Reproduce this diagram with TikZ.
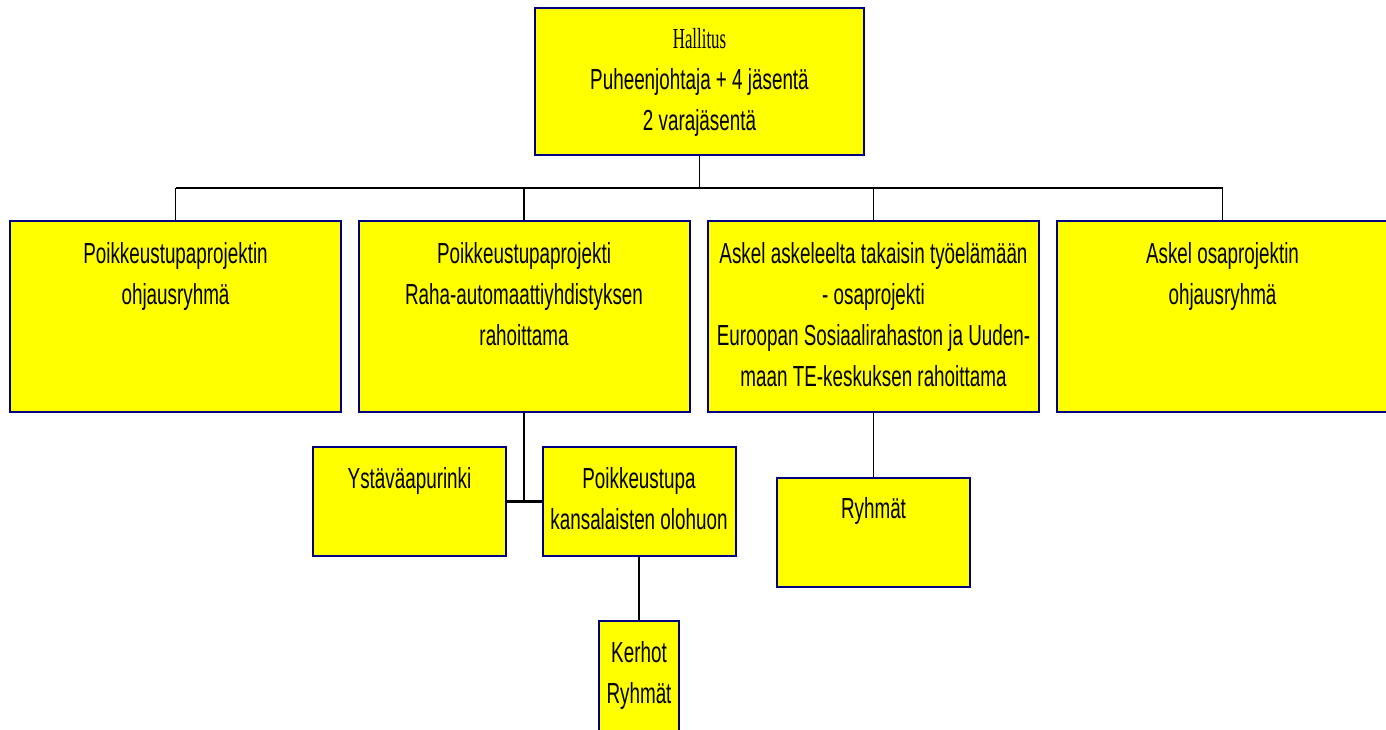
\documentclass[tikz,border=0pt]{standalone}
\usepackage{fontspec}
\setmainfont{Liberation Sans}[FakeStretch=0.65]
\newfontfamily\hallfont{Liberation Serif}[FakeStretch=0.58]
\usepackage{xcolor}
\definecolor{boxedge}{RGB}{0,0,128}
\definecolor{boxfill}{RGB}{255,255,0}

\begin{document}
\begin{tikzpicture}[x=1pt,y=-1pt,
    box/.style={draw=boxedge,fill=boxfill,line width=2pt,inner sep=0pt},
    wide/.style={box,minimum width=331pt,minimum height=191pt},
    small/.style={box,minimum width=193pt,minimum height=109pt},
    txt/.style={font=\fontsize{29}{41}\selectfont,align=center,inner sep=0pt,anchor=north,yshift=-21pt},
    link/.style={line width=1.8pt},
    busline/.style={line width=2.8pt}]
    \clip (0,0) rectangle (1386,729);
    \node[box,minimum width=329pt,minimum height=147pt,
        label={[txt]north:{{\hallfont\fontsize{29}{43}\selectfont Hallitus}\\Puheenjohtaja + 4 jäsentä\\2 varajäsentä}}] (hall) at (699.5,81.5) {};
    \node[wide,label={[txt,yshift=-1pt]north:{Poikkeustupaprojektin\\ohjausryhmä}}] (ohjryhma) at (175.5,316.5) {};
    \node[wide,label={[txt,yshift=-1pt]north:{Poikkeustupaprojekti\\Raha-automaattiyhdistyksen\\rahoittama}}] (rayproj) at (524,316.5) {};
    \node[wide,label={[txt,yshift=-1pt]north:{Askel askeleelta takaisin työelämään\\- osaprojekti\\Euroopan Sosiaalirahaston ja Uuden-\\maan TE-keskuksen rahoittama}}] (askelproj) at (873.5,316.5) {};
    \node[wide,label={[txt,yshift=-1pt]north:{Askel osaprojektin\\ohjausryhmä}}] (askelohj) at (1222.5,316.5) {};
    \node[small,label={[txt]north:{Ystäväapurinki}}] (ystava) at (409.5,501.5) {};
    \node[small,label={[txt]north:{Poikkeustupa\\kansalaisten olohuon}}] (tupa) at (639,501.5) {};
    \node[small,label={[txt]north:{Ryhmät}}] (ryhmat) at (873.5,532) {};
    \node[box,minimum width=80pt,minimum height=114pt,label={[txt]north:{Kerhot\\Ryhmät}}] (kerhot) at (639,678) {};

    \coordinate (bus) at (699.5,188);
    \draw[link] (hall.south) -- (bus);
    \draw[busline] (ohjryhma.north |- bus) -- (askelohj.north |- bus);
    \foreach \n in {ohjryhma,rayproj,askelproj,askelohj}
        \draw[link] (\n.north |- bus) -- (\n.north);
    \draw[link] (rayproj.south) -- (rayproj.south |- ystava.east);
    \draw[busline] (ystava.east) -- (tupa.west);
    \draw[link] (tupa.south) -- (kerhot.north);
    \draw[link] (askelproj.south) -- (ryhmat.north);
\end{tikzpicture}
\end{document}
